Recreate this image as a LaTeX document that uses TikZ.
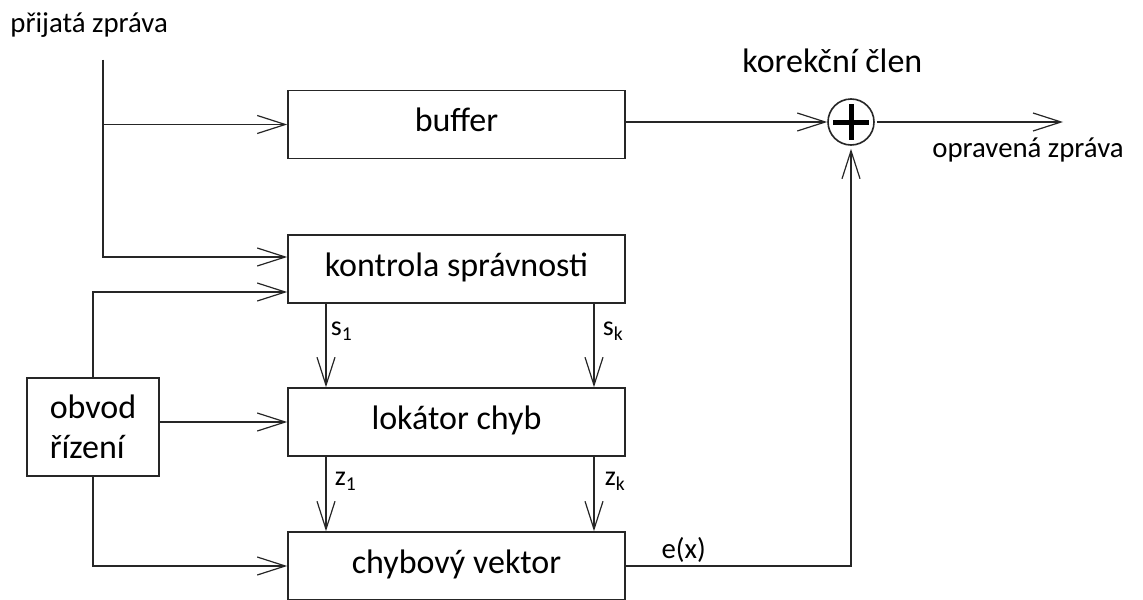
\documentclass[tikz,border=0pt]{standalone}
\usepackage{fontspec}
\setmainfont{Carlito}
\usetikzlibrary{arrows.meta,calc}
\begin{document}
\begin{tikzpicture}[x=0.5pt,y=-0.5pt,
  ln/.style={line width=0.8pt, draw=black!85},
  arr/.style={ln,-{Straight Barb[length=14pt,width=9pt,line width=0.6pt]}},
  blk/.style={draw=black!85, line width=0.8pt, rectangle, minimum width=168.5pt, minimum height=34pt, inner sep=0pt, font=\fontsize{17}{20}\selectfont, text height=0.9em, text depth=0.2em},
  lbl/.style={font=\fontsize{14.4}{17}\selectfont, inner sep=0pt, anchor=base west},
  biglbl/.style={font=\fontsize{17}{20}\selectfont, inner sep=0pt, anchor=base west},
  sublbl/.style={font=\fontsize{14}{16}\selectfont, inner sep=1pt, anchor=west, xshift=1pt}]
\useasboundingbox (0,0) rectangle (1143,599);
\clip (0,0) rectangle (1143,599);
\fill[white] (0,0) rectangle (1143,599);
\node[blk] (buf) at (456.5,124.5) {buffer};
\node[blk] (kon) at (456.5,269) {kontrola správnosti};
\node[blk] (lok) at (456.5,422) {lokátor chyb};
\node[blk] (chv) at (456.5,566) {chybový vektor};
\node[draw=black!85, line width=0.8pt, minimum width=66pt, minimum height=49pt, align=left, inner sep=0pt, font=\fontsize{17}{20}\selectfont] (obv) at (93,427) {obvod\\řízení};
\node[circle, draw=black!85, line width=0.8pt, minimum size=23pt, inner sep=0pt] (sum) at (851,122) {};
\draw[line width=2.5pt] ($(sum.center)+(-18,0)$) -- ($(sum.center)+(18,0)$);
\draw[line width=2.5pt] ($(sum.center)+(0,-18)$) -- ($(sum.center)+(0,18)$);
\node[lbl] (tin) at (10,33) {přijatá zpráva};
\node[biglbl] (tkor) at (742,73) {korekční člen};
\node[lbl] (tout) at (932,157) {opravená zpráva};
\coordinate (in) at (103,60);
\coordinate (out) at (1063,122);
\coordinate (c1) at (326,0);
\coordinate (ck) at (594,0);
\draw[arr] (in) |- (buf.west);
\draw[arr] (in) |- ($(kon.west)+(0,-12)$);
\draw[arr] (obv.north) |- ($(kon.west)+(0,23)$);
\draw[arr] (obv.east |- lok.west) -- (lok.west);
\draw[arr] (obv.south) |- (chv.west);
\draw[arr] (buf.east |- sum.west) -- (sum.west);
\draw[arr, shorten <=1pt] (sum.east) -- (out);
\draw[arr, shorten >=1.5pt] (chv.east) -| node[lbl, pos=0.0775, yshift=4pt] {e(x)} (sum.south);
\draw[arr] (kon.south -| c1) -- node[sublbl, pos=0.33] {s\textsubscript{1}} (lok.north -| c1);
\draw[arr] (kon.south -| ck) -- node[sublbl, pos=0.33, xshift=2pt] {s\textsubscript{k}} (lok.north -| ck);
\draw[arr] (lok.south -| c1) -- node[sublbl, pos=0.33, xshift=2pt] {z\textsubscript{1}} (chv.north -| c1);
\draw[arr] (lok.south -| ck) -- node[sublbl, pos=0.33, xshift=3pt] {z\textsubscript{k}} (chv.north -| ck);
\end{tikzpicture}
\end{document}
